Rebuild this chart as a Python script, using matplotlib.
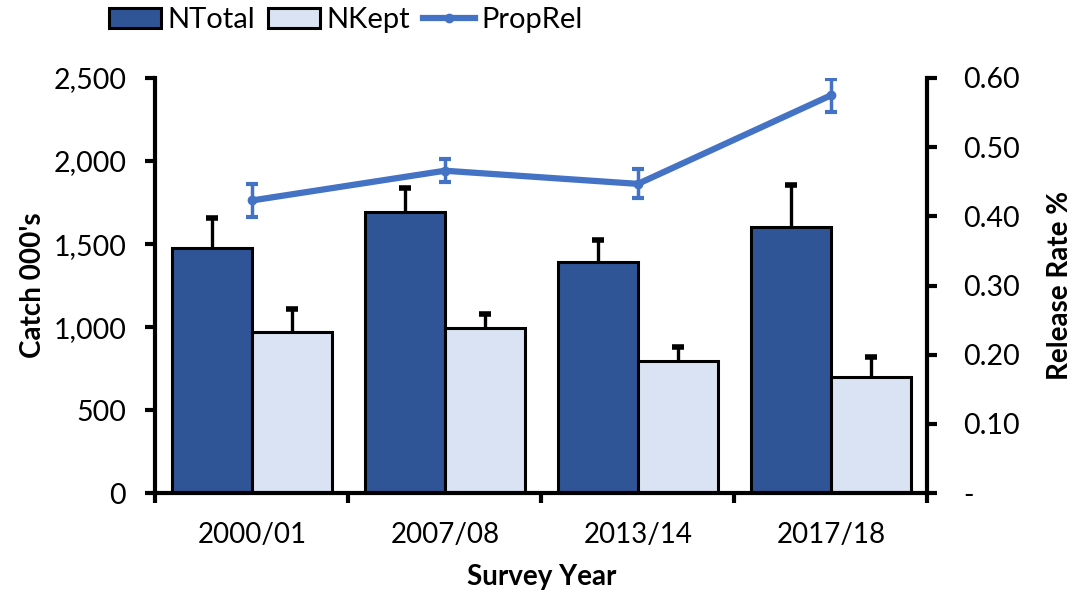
import numpy as np
import matplotlib
matplotlib.use("Agg")
from matplotlib import pyplot as plt
from matplotlib.ticker import FuncFormatter, FixedLocator
from matplotlib.lines import Line2D

plt.rcParams['font.family'] = ['Lato', 'DejaVu Sans']

years = ["2000/01", "2007/08", "2013/14", "2017/18"]
ntotal = [1476, 1693, 1392, 1602]
ntotal_err = [180, 145, 132, 253]
nkept = [970, 994, 795, 699]
nkept_err = [138, 84, 85, 120]
proprel = [0.423, 0.466, 0.447, 0.575]
proprel_err = [0.024, 0.017, 0.021, 0.024]

dark = "#2F5597"
light = "#DAE3F3"
blue = "#4472C4"

fig = plt.figure(figsize=(10.71, 6), dpi=100)
ax = fig.add_axes([0.145, 0.178, 0.721, 0.692])
ax2 = ax.twinx()

x = np.arange(len(years))
w = 0.415
ax.bar(x - w / 2, ntotal, w, color=dark, edgecolor="black", linewidth=2.2, label="NTotal", zorder=2)
ax.bar(x + w / 2, nkept, w, color=light, edgecolor="black", linewidth=2.2, label="NKept", zorder=2)
# symmetric error bars drawn behind the bars so only the upper half shows
ax.errorbar(x - w / 2, ntotal, yerr=ntotal_err, fmt="none", ecolor="black", elinewidth=2.4,
            capsize=4.5, capthick=4, zorder=1)
ax.errorbar(x + w / 2, nkept, yerr=nkept_err, fmt="none", ecolor="black", elinewidth=2.4,
            capsize=4.5, capthick=4, zorder=1)

ax2.errorbar(x, proprel, yerr=proprel_err, color=blue, linewidth=4.5, marker="o", markersize=6,
             elinewidth=2.5, capsize=4.5, capthick=3, zorder=3)

ax.set_xlim(-0.5, 3.5)
ax.set_ylim(0, 2500)
ax2.set_ylim(0, 0.6)
ax.set_yticks(np.arange(0, 2501, 500))
ax.yaxis.set_major_formatter(FuncFormatter(lambda v, p: f"{v:,.0f}"))
ax2.set_yticks(np.arange(0, 0.61, 0.1))
ax2.yaxis.set_major_formatter(FuncFormatter(lambda v, p: "-" if abs(v) < 1e-9 else f"{v:.2f}"))

ax.xaxis.set_major_locator(FixedLocator(np.arange(-0.5, 3.6, 1)))
ax.set_xticklabels([])
ax.set_xticks(x, minor=True)
ax.set_xticklabels(years, minor=True)
ax.tick_params(axis="x", which="minor", length=0, pad=21, labelsize=20)
ax.tick_params(axis="x", which="major", length=7, width=3)
ax.tick_params(axis="y", length=7, width=3, labelsize=20.5, pad=14)
ax2.tick_params(axis="y", length=7, width=3, labelsize=20.5, pad=19)

for a in (ax, ax2):
    a.spines["top"].set_visible(False)
    for s in ("left", "right", "bottom"):
        a.spines[s].set_linewidth(3)
ax.spines["right"].set_visible(False)
ax2.spines["left"].set_visible(False)
ax2.spines["bottom"].set_visible(False)

ax.set_xlabel("Survey Year", fontsize=20, fontweight="bold", labelpad=11)
ax.set_ylabel("Catch 000's", fontsize=20, fontweight="bold", labelpad=5)
ax2.set_ylabel("Release Rate %", fontsize=20, fontweight="bold", labelpad=19)

h1, l1 = ax.get_legend_handles_labels()
h2 = [Line2D([], [], color=blue, linewidth=4.5, marker="o", markersize=6)]
fig.legend(h1 + h2, l1 + ["PropRel"], loc="upper left", bbox_to_anchor=(0.077, 1.032), ncol=3, frameon=False,
           fontsize=21, handlelength=1.8, handletextpad=0.2, columnspacing=0.45)

fig.savefig("out.png", dpi=100)
